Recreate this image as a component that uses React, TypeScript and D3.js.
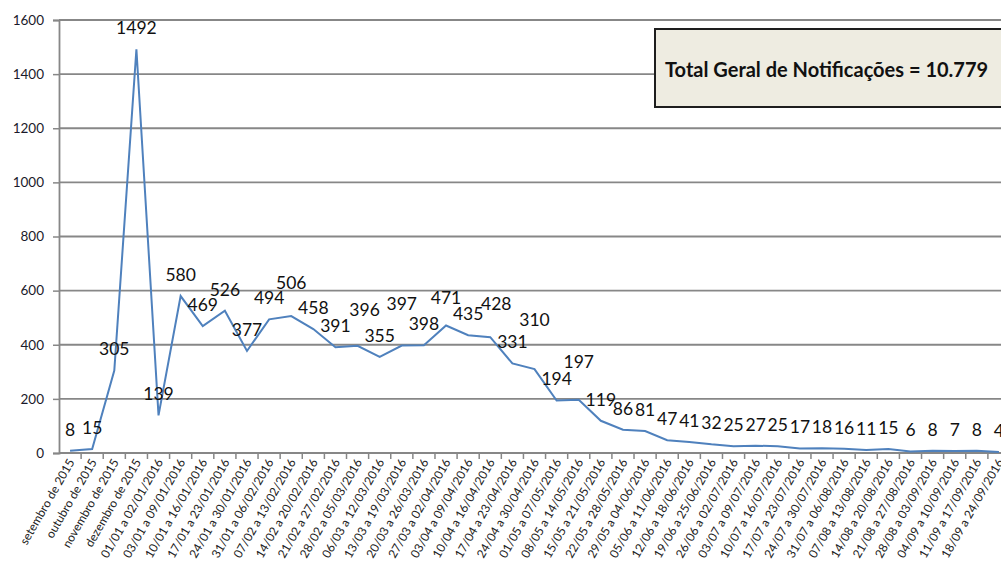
import React, { useEffect, useRef } from "react";
import * as d3 from "d3";

const periods = [
  "setembro de 2015",
  "outubro de 2015",
  "novembro de 2015",
  "dezembro de 2015",
  "01/01 a 02/01/2016",
  "03/01 a 09/01/2016",
  "10/01 a 16/01/2016",
  "17/01 a 23/01/2016",
  "24/01 a 30/01/2016",
  "31/01 a 06/02/2016",
  "07/02 a 13/02/2016",
  "14/02 a 20/02/2016",
  "21/02 a 27/02/2016",
  "28/02 a 05/03/2016",
  "06/03 a 12/03/2016",
  "13/03 a 19/03/2016",
  "20/03 a 26/03/2016",
  "27/03 a 02/04/2016",
  "03/04 a 09/04/2016",
  "10/04 a 16/04/2016",
  "17/04 a 23/04/2016",
  "24/04 a 30/04/2016",
  "01/05 a 07/05/2016",
  "08/05 a 14/05/2016",
  "15/05 a 21/05/2016",
  "22/05 a 28/05/2016",
  "29/05 a 04/06/2016",
  "05/06 a 11/06/2016",
  "12/06 a 18/06/2016",
  "19/06 a 25/06/2016",
  "26/06 a 02/07/2016",
  "03/07 a 09/07/2016",
  "10/07 a 16/07/2016",
  "17/07 a 23/07/2016",
  "24/07 a 30/07/2016",
  "31/07 a 06/08/2016",
  "07/08 a 13/08/2016",
  "14/08 a 20/08/2016",
  "21/08 a 27/08/2016",
  "28/08 a 03/09/2016",
  "04/09 a 10/09/2016",
  "11/09 a 17/09/2016",
  "18/09 a 24/09/2016",
];

const notifications = [
  8, 15, 305, 1492, 139, 580, 469, 526, 377, 494, 506, 458, 391, 396, 355,
  397, 398, 471, 435, 428, 331, 310, 194, 197, 119, 86, 81, 47, 41, 32, 25,
  27, 25, 17, 18, 16, 11, 15, 6, 8, 7, 8, 4,
];

const yTicks = [0, 200, 400, 600, 800, 1000, 1200, 1400, 1600];

const totalText = "Total Geral de Notificações = 10.779";

// a few data labels sit off their usual spot in the original (index -> [dx, extra lift])
const labelNudge: Record<number, [number, number]> = {
  10: [0, 12],
  13: [7, 15],
  15: [0, 21],
  17: [0, 7],
  19: [6, 12],
  21: [0, 28],
  23: [0, 17],
};

const W = 1001;
const H = 562;
const margin = { left: 59, top: 20, right: -9, bottom: 109 };

function NotificationsChart() {
  const svgRef = useRef<SVGSVGElement>(null);

  useEffect(() => {
    const svg = d3.select(svgRef.current);
    svg.selectAll("*").remove();

    const x = d3
      .scaleBand<number>()
      .domain(notifications.map((d, i) => i))
      .range([margin.left, W - margin.right]);

    const y = d3
      .scaleLinear()
      .domain([0, 1600])
      .range([H - margin.bottom, margin.top]);

    const cx = (i: number) => (x(i) as number) + x.bandwidth() / 2;
    const font = "Lato, 'Open Sans', sans-serif";

    // grid
    svg
      .append("g")
      .selectAll("line")
      .data(yTicks.filter((t) => t > 0))
      .join("line")
      .attr("x1", margin.left)
      .attr("x2", W)
      .attr("y1", (d) => y(d))
      .attr("y2", (d) => y(d))
      .attr("stroke", "#878787")
      .attr("stroke-width", 1.8);

    // y axis
    const yAxis = d3
      .axisLeft(y)
      .tickValues(yTicks)
      .tickSize(6)
      .tickPadding(9)
      .tickFormat((d) => String(d));
    const gy = svg
      .append("g")
      .attr("transform", `translate(${margin.left},0)`)
      .call(yAxis);
    gy.select(".domain").attr("stroke", "#878787").attr("stroke-width", 1.8);
    gy.selectAll(".tick line").attr("stroke", "#878787").attr("stroke-width", 1.5);
    gy.selectAll(".tick text")
      .attr("font-family", font)
      .attr("font-size", 13.5)
      .attr("fill", "#1a1a2a");

    // x axis line + ticks between categories
    const gx = svg.append("g");
    gx.append("line")
      .attr("x1", margin.left)
      .attr("x2", W)
      .attr("y1", y(0))
      .attr("y2", y(0))
      .attr("stroke", "#878787")
      .attr("stroke-width", 1.8);
    gx.selectAll(".xtick")
      .data(notifications.map((d, i) => i))
      .join("line")
      .attr("class", "xtick")
      .attr("x1", (i) => (x(i) as number) + x.bandwidth())
      .attr("x2", (i) => (x(i) as number) + x.bandwidth())
      .attr("y1", y(0))
      .attr("y2", y(0) + 6)
      .attr("stroke", "#878787")
      .attr("stroke-width", 1.5);
    gx.selectAll(".xlabel")
      .data(periods)
      .join("text")
      .attr("class", "xlabel")
      .attr("transform", (d, i) => `translate(${cx(i) + 5},${y(0) + 9}) rotate(-60)`)
      .attr("text-anchor", "end")
      .attr("font-family", font)
      .attr("font-size", 12)
      .attr("fill", "#222")
      .text((d) => d);

    // line
    const line = d3
      .line<number>()
      .x((d, i) => cx(i))
      .y((d) => y(d));
    svg
      .append("path")
      .datum(notifications)
      .attr("d", line)
      .attr("fill", "none")
      .attr("stroke", "#4f81bd")
      .attr("stroke-width", 2);

    // data labels
    svg
      .append("g")
      .selectAll("text")
      .data(notifications)
      .join("text")
      .attr("x", (d, i) => cx(i) + (labelNudge[i] ? labelNudge[i][0] : 0))
      .attr("y", (d, i) => y(d) - 15 - (labelNudge[i] ? labelNudge[i][1] : 0))
      .attr("text-anchor", "middle")
      .attr("font-family", font)
      .attr("font-size", 17.5)
      .attr("fill", "#111")
      .text((d) => d);

    // total box
    const box = svg.append("g");
    box
      .append("rect")
      .attr("x", 655)
      .attr("y", 29)
      .attr("width", 370)
      .attr("height", 78)
      .attr("fill", "#eeece1")
      .attr("stroke", "#1e1e1e")
      .attr("stroke-width", 2);
    box
      .append("text")
      .attr("x", 665)
      .attr("y", 77)
      .attr("font-family", font)
      .attr("font-weight", "bold")
      .attr("font-size", 20)
      .attr("fill", "#111")
      .text(totalText);
  }, []);

  return <svg ref={svgRef} width={W} height={H} style={{ display: "block" }} />;
}

export default function App() {
  return (
    <div>
      <style>{`body{margin:0;background:#fff}`}</style>
      <NotificationsChart />
    </div>
  );
}
